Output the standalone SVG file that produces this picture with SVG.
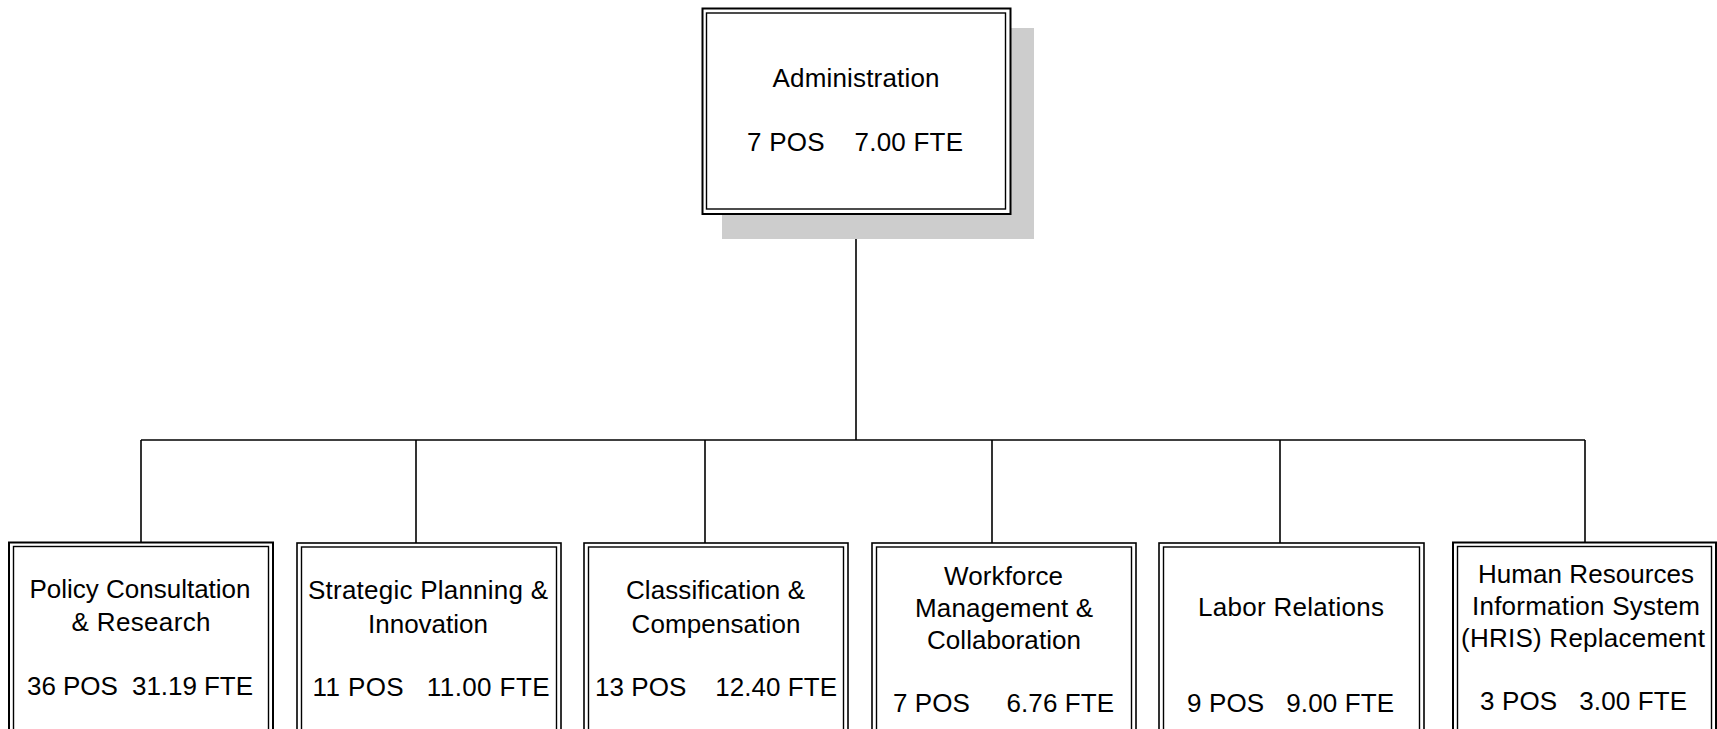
<svg xmlns="http://www.w3.org/2000/svg" width="1717" height="729" viewBox="0 0 1717 729">
  <style>
    .outer { fill: #ffffff; stroke: #000000; stroke-width: 1.6; }
    .inner { fill: none; stroke: #000000; stroke-width: 1.4; }
    .shadow { fill: #cdcdcd; stroke: none; }
    .conn { fill: none; stroke: #000000; stroke-width: 1.6; }
    text { font-family: "Liberation Sans", Arial, sans-serif; fill: #000000; text-anchor: middle; white-space: pre; }
    .top { font-size: 26px; }
    .lbl { font-size: 26px; }
  </style>

  <!-- connectors -->
  <g id="connectors">
    <path class="conn" d="M856,214 V440"/>
    <path class="conn" d="M141,440 H1585"/>
    <path class="conn" d="M141,440 V542"/>
    <path class="conn" d="M416,440 V543"/>
    <path class="conn" d="M705,440 V543"/>
    <path class="conn" d="M992,440 V543"/>
    <path class="conn" d="M1280,440 V543"/>
    <path class="conn" d="M1585,440 V542"/>
  </g>

  <!-- root -->
  <g id="administration">
    <rect class="shadow" x="722" y="28" width="312" height="211"/>
    <rect class="outer" x="702.5" y="8.5" width="308" height="205.5" style="stroke-width:2"/>
    <rect class="inner" x="706.5" y="13" width="299" height="196"/>
    <text class="top" x="856" y="87" textLength="167" lengthAdjust="spacing">Administration</text>
    <text class="top" x="855" y="151" textLength="216" lengthAdjust="spacing">7 POS    7.00 FTE</text>
  </g>

  <g id="policy-consultation">
    <rect class="outer" x="9" y="542.5" width="264" height="230" style="stroke-width:2"/>
    <rect class="inner" x="13.5" y="546.5" width="255" height="230"/>
    <text class="lbl" x="140" y="598" textLength="221" lengthAdjust="spacing">Policy Consultation</text>
    <text class="lbl" x="141" y="631" textLength="139" lengthAdjust="spacing">&amp; Research</text>
    <text class="lbl" x="140" y="695" textLength="226" lengthAdjust="spacing">36 POS  31.19 FTE</text>
  </g>

  <g id="strategic-planning">
    <rect class="outer" x="297" y="543" width="264" height="230"/>
    <rect class="inner" x="301.5" y="547" width="255" height="230"/>
    <text class="lbl" x="428" y="599" textLength="240" lengthAdjust="spacing">Strategic Planning &amp;</text>
    <text class="lbl" x="428" y="633" textLength="120" lengthAdjust="spacing">Innovation</text>
    <text class="lbl" x="431" y="696" textLength="237" lengthAdjust="spacing">11 POS   11.00 FTE</text>
  </g>

  <g id="classification">
    <rect class="outer" x="584" y="543" width="264" height="230"/>
    <rect class="inner" x="588.5" y="547" width="255" height="230"/>
    <text class="lbl" x="715.5" y="599" textLength="179" lengthAdjust="spacing">Classification &amp;</text>
    <text class="lbl" x="716" y="633" textLength="169" lengthAdjust="spacing">Compensation</text>
    <text class="lbl" x="716" y="696" textLength="242" lengthAdjust="spacing">13 POS    12.40 FTE</text>
  </g>

  <g id="workforce-management">
    <rect class="outer" x="872" y="543" width="264" height="230"/>
    <rect class="inner" x="876.5" y="547" width="255" height="230"/>
    <text class="lbl" x="1003.5" y="585" textLength="119" lengthAdjust="spacing">Workforce</text>
    <text class="lbl" x="1004" y="617" textLength="178" lengthAdjust="spacing">Management &amp;</text>
    <text class="lbl" x="1004" y="649" textLength="154" lengthAdjust="spacing">Collaboration</text>
    <text class="lbl" x="1003.5" y="712" textLength="221" lengthAdjust="spacing">7 POS     6.76 FTE</text>
  </g>

  <g id="labor-relations">
    <rect class="outer" x="1159" y="543" width="265" height="230"/>
    <rect class="inner" x="1163.5" y="547" width="256" height="230"/>
    <text class="lbl" x="1291" y="616" textLength="186" lengthAdjust="spacing">Labor Relations</text>
    <text class="lbl" x="1290.5" y="712" textLength="207" lengthAdjust="spacing">9 POS   9.00 FTE</text>
  </g>

  <g id="hris-replacement">
    <rect class="outer" x="1453" y="542.5" width="263" height="230" style="stroke-width:2"/>
    <rect class="inner" x="1457.5" y="546.5" width="254" height="230"/>
    <text class="lbl" x="1586" y="583" textLength="216" lengthAdjust="spacing">Human Resources</text>
    <text class="lbl" x="1586" y="615" textLength="228" lengthAdjust="spacing">Information System</text>
    <text class="lbl" x="1583" y="647" textLength="244" lengthAdjust="spacing">(HRIS) Replacement</text>
    <text class="lbl" x="1583.5" y="710" textLength="207" lengthAdjust="spacing">3 POS   3.00 FTE</text>
  </g>
</svg>
